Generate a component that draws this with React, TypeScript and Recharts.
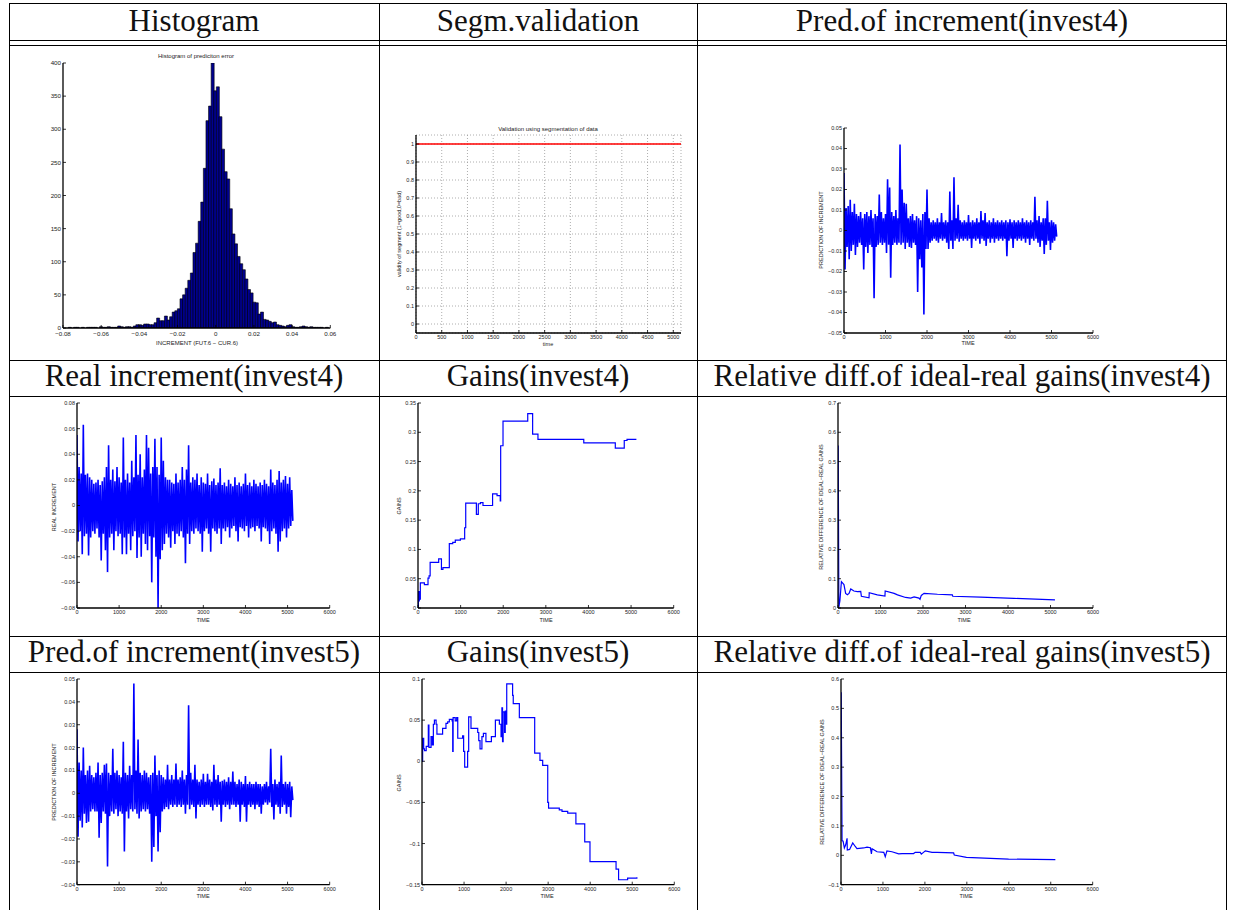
import React from "react";
import { Bar, BarChart, CartesianGrid, Line, LineChart, XAxis, YAxis } from "recharts";

// ---- histogram of prediction error (equal-width bins from HIST_START) ----
const HIST_START = -0.0772;
const HIST_BIN = 0.00136;
const HIST_COUNTS = [
  1, 0, 1, 1, 0, 1, 0, 1, 1, 1, 1, 0,
  2, 1, 1, 2, 1, 1, 1, 3, 2,
  1, 2, 2, 1, 3, 5, 5,
  4, 6, 6, 5, 5, 8,
  15, 11, 11, 18, 12, 17, 24, 26, 29,
  44, 50, 60, 72, 83, 114, 128, 161, 190, 241,
  313, 335, 400, 358, 364,
  319, 270, 236, 225, 180, 142, 127, 108, 97,
  88, 74, 58, 53, 39, 38, 21, 24, 13, 12,
  10, 8, 9, 5, 4, 3, 2, 4, 5,
  2, 1, 1, 2, 3, 2, 1, 2, 1, 1, 1, 1, 0, 1,
];

// ---- segment validation ----
const VALID_T = [0, 5150];
const VALID_V = [1, 1];

// ---- noisy series: max / min read per 50-sample bucket ----
const BUCKET = 50;

const PRED4_HI = [
  0.028, 0.011, 0.012, 0.015, 0.009, 0.013, 0.008, 0.007, 0.009, 0.006,
  0.008, 0.009, 0.007, 0.01, 0.006, 0.008, 0.007, 0.0175, 0.009, 0.006,
  0.008, 0.025, 0.021, 0.009, 0.007, 0.01, 0.006, 0.042, 0.02, 0.0135,
  0.013, 0.006, 0.007, 0.008, 0.005, 0.007, 0.006, 0.005, 0.008, 0.009,
  0.02, 0.006, 0.004, 0.005, 0.004, 0.006, 0.004, 0.0085, 0.004, 0.005,
  0.004, 0.019, 0.005, 0.026, 0.006, 0.0125, 0.005, 0.004, 0.005, 0.004,
  0.0075, 0.004, 0.005, 0.004, 0.006, 0.004, 0.0095, 0.005, 0.0085, 0.004,
  0.005, 0.004, 0.006, 0.004, 0.005, 0.004, 0.005, 0.004, 0.005, 0.004,
  0.0055, 0.004, 0.005, 0.004, 0.005, 0.004, 0.006, 0.004, 0.005, 0.004,
  0.005, 0.004, 0.0165, 0.005, 0.007, 0.004, 0.006, 0.006, 0.0145, 0.004,
  0.005, 0.004, 0.003,
];
const PRED4_LO = [
  -0.019, -0.008, -0.014, -0.01, -0.007, -0.012, -0.008, -0.006, -0.007, -0.019,
  -0.008, -0.011, -0.007, -0.008, -0.033, -0.008, -0.007, -0.006, -0.007, -0.006,
  -0.011, -0.007, -0.023, -0.007, -0.006, -0.007, -0.006, -0.007, -0.006, -0.009,
  -0.006, -0.008, -0.0085, -0.006, -0.007, -0.03, -0.014, -0.018, -0.041, -0.009,
  -0.009, -0.006, -0.005, -0.004, -0.005, -0.006, -0.004, -0.005, -0.004, -0.006,
  -0.009, -0.005, -0.009, -0.005, -0.004, -0.0055, -0.004, -0.005, -0.004, -0.005,
  -0.004, -0.0085, -0.004, -0.005, -0.004, -0.0065, -0.004, -0.005, -0.0075, -0.004,
  -0.006, -0.004, -0.006, -0.004, -0.005, -0.004, -0.005, -0.004, -0.0125, -0.005,
  -0.004, -0.0085, -0.004, -0.005, -0.004, -0.005, -0.004, -0.006, -0.004, -0.007,
  -0.004, -0.005, -0.004, -0.006, -0.008, -0.005, -0.0115, -0.007, -0.005, -0.0095,
  -0.006, -0.005, -0.003,
];

const REAL4_HI = [
  0.055, 0.03, 0.025, 0.063, 0.024, 0.025, 0.022, 0.02, 0.017, 0.018,
  0.02, 0.016, 0.019, 0.022, 0.03, 0.047, 0.02, 0.028, 0.019, 0.03,
  0.022, 0.018, 0.053, 0.02, 0.025, 0.018, 0.035, 0.022, 0.055, 0.024,
  0.04, 0.022, 0.028, 0.055, 0.045, 0.025, 0.03, 0.052, 0.03, 0.024,
  0.053, 0.035, 0.022, 0.02, 0.02, 0.018, 0.017, 0.025, 0.018, 0.02,
  0.03, 0.02, 0.028, 0.047, 0.018, 0.022, 0.02, 0.025, 0.016, 0.022,
  0.018, 0.017, 0.025, 0.016, 0.019, 0.021, 0.016, 0.018, 0.029, 0.016,
  0.018, 0.015, 0.02, 0.017, 0.015, 0.022, 0.016, 0.018, 0.015, 0.017,
  0.025, 0.016, 0.018, 0.015, 0.02, 0.017, 0.015, 0.018, 0.016, 0.02,
  0.017, 0.015, 0.028, 0.018, 0.016, 0.02, 0.027, 0.018, 0.02, 0.023,
  0.017, 0.022, 0.012,
];
const REAL4_LO = [
  -0.028, -0.02, -0.038, -0.024, -0.022, -0.039, -0.025, -0.02, -0.022, -0.018,
  -0.025, -0.043, -0.022, -0.035, -0.052, -0.025, -0.022, -0.035, -0.02, -0.024,
  -0.022, -0.038, -0.025, -0.038, -0.022, -0.035, -0.024, -0.02, -0.041, -0.025,
  -0.04, -0.022, -0.03, -0.035, -0.024, -0.06, -0.025, -0.04, -0.08, -0.042,
  -0.035, -0.03, -0.022, -0.025, -0.033, -0.02, -0.03, -0.022, -0.024, -0.02,
  -0.025, -0.045, -0.022, -0.03, -0.02, -0.022, -0.018, -0.02, -0.022, -0.036,
  -0.02, -0.018, -0.022, -0.036, -0.018, -0.02, -0.022, -0.018, -0.03, -0.018,
  -0.02, -0.017, -0.025, -0.018, -0.016, -0.02, -0.028, -0.017, -0.018, -0.02,
  -0.016, -0.025, -0.018, -0.017, -0.02, -0.016, -0.018, -0.028, -0.017, -0.018,
  -0.02, -0.03, -0.02, -0.018, -0.022, -0.036, -0.028, -0.02, -0.018, -0.025,
  -0.018, -0.016, -0.012,
];

const PRED5_HI = [
  0.028, 0.0135, 0.01, 0.02, 0.008, 0.01, 0.012, 0.008, 0.007, 0.009,
  0.0135, 0.008, 0.009, 0.0125, 0.013, 0.009, 0.008, 0.0195, 0.009, 0.01,
  0.008, 0.007, 0.0225, 0.009, 0.008, 0.012, 0.008, 0.048, 0.01, 0.0235,
  0.009, 0.008, 0.01, 0.009, 0.007, 0.008, 0.009, 0.0165, 0.008, 0.01,
  0.008, 0.007, 0.006, 0.0125, 0.006, 0.008, 0.006, 0.013, 0.006, 0.007,
  0.01, 0.006, 0.008, 0.0385, 0.009, 0.006, 0.0125, 0.006, 0.005, 0.006,
  0.0085, 0.005, 0.0085, 0.006, 0.005, 0.0125, 0.006, 0.008, 0.005, 0.0055,
  0.006, 0.005, 0.007, 0.005, 0.0095, 0.005, 0.004, 0.006, 0.005, 0.004,
  0.0075, 0.004, 0.005, 0.004, 0.004, 0.005, 0.004, 0.004, 0.003, 0.004,
  0.005, 0.003, 0.0195, 0.004, 0.006, 0.004, 0.005, 0.0165, 0.004, 0.005,
  0.004, 0.005, 0.003,
];
const PRED5_LO = [
  -0.019, -0.012, -0.015, -0.009, -0.013, -0.0125, -0.008, -0.007, -0.008, -0.008,
  -0.0195, -0.013, -0.008, -0.009, -0.032, -0.01, -0.008, -0.009, -0.007, -0.01,
  -0.008, -0.009, -0.0255, -0.008, -0.011, -0.007, -0.008, -0.007, -0.009, -0.011,
  -0.008, -0.007, -0.008, -0.007, -0.009, -0.03, -0.0235, -0.01, -0.0255, -0.017,
  -0.008, -0.007, -0.006, -0.007, -0.005, -0.006, -0.005, -0.006, -0.005, -0.006,
  -0.005, -0.009, -0.005, -0.007, -0.005, -0.006, -0.011, -0.005, -0.006, -0.005,
  -0.006, -0.005, -0.005, -0.006, -0.0075, -0.005, -0.006, -0.005, -0.0125, -0.005,
  -0.006, -0.005, -0.007, -0.005, -0.005, -0.006, -0.005, -0.0125, -0.005, -0.006,
  -0.0125, -0.005, -0.006, -0.005, -0.007, -0.005, -0.006, -0.009, -0.005, -0.004,
  -0.005, -0.004, -0.006, -0.0115, -0.005, -0.006, -0.009, -0.006, -0.005, -0.009,
  -0.006, -0.0105, -0.003,
];

// ---- gains (step series) ----
const GAIN4_T = [
  0, 10, 20, 30, 40, 55, 150, 235, 260, 285, 485, 550, 585, 735, 815, 875, 995,
  1095, 1120, 1370, 1415, 1465, 1525, 1750, 1855, 1930, 1940, 1995, 2575, 2690,
  2815, 3890, 4630, 4840, 4905, 5125,
];
const GAIN4_V = [
  0, 0.028, 0.012, 0.028, 0.015, 0.043, 0.04, 0.051, 0.055, 0.078, 0.084, 0.066,
  0.069, 0.11, 0.112, 0.116, 0.118, 0.137, 0.179, 0.16, 0.178, 0.18, 0.175, 0.195,
  0.192, 0.183, 0.277, 0.319, 0.332, 0.297, 0.288, 0.282, 0.273, 0.286, 0.288, 0.288,
];

const GAIN5_T = [
  0, 15, 40, 60, 100, 150, 165, 215, 245, 270, 295, 335, 355, 490, 570, 610, 650,
  715, 730, 740, 790, 825, 850, 965, 990, 1015, 1085, 1110, 1165, 1325, 1350, 1380,
  1425, 1460, 1520, 1650, 1745, 1840, 1880, 1900, 1915, 1930, 1965, 1980, 2005,
  2015, 2155, 2170, 2315, 2680, 2805, 2870, 2990, 3010, 3265, 3330, 3465, 3660,
  3870, 3995, 4615, 4675, 4890, 5110,
];
const GAIN5_V = [
  0, 0.028, 0.015, 0.013, 0.018, 0.044, 0.017, 0.03, 0.02, 0.045, 0.05, 0.045,
  0.033, 0.04, 0.046, 0.048, 0.051, 0.049, 0.012, 0.053, 0.049, 0.053, 0.028,
  0.031, 0.012, -0.007, 0.012, 0.054, 0.04, 0.035, 0.025, 0.015, 0.03, 0.034,
  0.024, 0.03, 0.05, 0.045, 0.03, 0.065, 0.024, 0.06, 0.035, 0.061, 0.045, 0.094,
  0.08, 0.07, 0.053, 0.01, 0.001, -0.005, -0.05, -0.057, -0.059, -0.061, -0.063,
  -0.076, -0.098, -0.122, -0.131, -0.144, -0.142, -0.141,
];

// ---- relative difference of ideal-real gains ----
const DIFF4_T = [
  5, 20, 45, 80, 140, 180, 220, 260, 300, 375, 455, 535, 550, 730, 735, 925,
  1105, 1110, 1320, 1400, 1590, 1710, 1790, 1905, 1930, 1960, 2025, 2340, 2690,
  2700, 3360, 4140, 5105,
];
const DIFF4_V = [
  0.555, 0.003, 0.025, 0.09, 0.08, 0.05, 0.045, 0.05, 0.065, 0.058, 0.056,
  0.057, 0.04, 0.035, 0.052, 0.045, 0.041, 0.058, 0.05, 0.045, 0.036, 0.034, 0.038,
  0.034, 0.03, 0.043, 0.05, 0.047, 0.045, 0.04, 0.037, 0.033, 0.028,
];

const DIFF5_T = [
  5, 25, 50, 80, 110, 145, 150, 205, 245, 280, 340, 380, 540, 620, 700, 725,
  740, 860, 1020, 1055, 1095, 1215, 1375, 1455, 1730, 1770, 1890, 1915, 2010, 2170,
  2290, 2685, 2700, 2990, 3995, 5110,
];
const DIFF5_V = [
  0.555, 0.05, 0.048, 0.025, 0.035, 0.058, 0.018, 0.02, 0.032, 0.042, 0.03,
  0.023, 0.025, 0.028, 0.026, 0.005, 0.022, 0.012, 0.01, -0.005, 0.015, 0.012,
  0.005, 0.006, 0.006, 0.01, 0.01, 0.004, 0.015, 0.01, 0.01, 0.008, 0.001, -0.007,
  -0.013, -0.015,
];

// ---- tick labels ----
const HIST_X_TICKS = [-0.08, -0.06, -0.04, -0.02, 0, 0.02, 0.04, 0.06];
const HIST_Y_TICKS = [0, 50, 100, 150, 200, 250, 300, 350, 400];
const VALID_X_TICKS = [0, 500, 1000, 1500, 2000, 2500, 3000, 3500, 4000, 4500, 5000];
const VALID_Y_TICKS = [0, 0.1, 0.2, 0.3, 0.4, 0.5, 0.6, 0.7, 0.8, 0.9, 1];
const TIME_TICKS = [0, 1000, 2000, 3000, 4000, 5000, 6000];
const PRED4_Y_TICKS = [-0.05, -0.04, -0.03, -0.02, -0.01, 0, 0.01, 0.02, 0.03, 0.04, 0.05];
const REAL4_Y_TICKS = [-0.08, -0.06, -0.04, -0.02, 0, 0.02, 0.04, 0.06, 0.08];
const GAIN4_Y_TICKS = [0, 0.05, 0.1, 0.15, 0.2, 0.25, 0.3, 0.35];
const DIFF4_Y_TICKS = [0, 0.1, 0.2, 0.3, 0.4, 0.5, 0.6, 0.7];
const PRED5_Y_TICKS = [-0.04, -0.03, -0.02, -0.01, 0, 0.01, 0.02, 0.03, 0.04, 0.05];
const GAIN5_Y_TICKS = [-0.15, -0.1, -0.05, 0, 0.05, 0.1];
const DIFF5_Y_TICKS = [-0.1, 0, 0.1, 0.2, 0.3, 0.4, 0.5, 0.6];

// ---- build chart rows ----
const histData = HIST_COUNTS.map((c, i) => ({ t: HIST_START + (i + 0.5) * HIST_BIN, v: c }));
const zipRows = (ts: number[], vs: number[]) => ts.map((t, i) => ({ t, v: vs[i] }));
const envelopeRows = (hi: number[], lo: number[]) => {
  const rows: { t: number; v: number }[] = [];
  hi.forEach((h, k) => {
    rows.push({ t: k * BUCKET, v: h });
    rows.push({ t: k * BUCKET + BUCKET / 2, v: lo[k] });
  });
  return rows;
};

// ---- layout ----
type Box = { x0: number; y0: number; x1: number; y1: number };
const PAD = { l: 40, t: 10, r: 10, b: 20 };
const BOX: Record<string, Box> = {
  hist: { x0: 62.7, y0: 63.3, x1: 330, y1: 328.3 },
  valid: { x0: 416, y0: 135, x1: 681, y1: 333 },
  pred4: { x0: 844, y0: 128, x1: 1093, y1: 333 },
  real4: { x0: 77.3, y0: 403.3, x1: 330, y1: 608.3 },
  gain4: { x0: 418.3, y0: 403.3, x1: 674, y1: 608.3 },
  diff4: { x0: 837.7, y0: 403.3, x1: 1092.7, y1: 608.3 },
  pred5: { x0: 77.3, y0: 679.3, x1: 330, y1: 885 },
  gain5: { x0: 421.7, y0: 679.3, x1: 674, y1: 885 },
  diff5: { x0: 841, y0: 679.3, x1: 1092.7, y1: 885 },
};

const SANS = "'Liberation Sans', Arial, Helvetica, sans-serif";
const SERIF = "'Liberation Serif', 'Times New Roman', serif";
const INK = "#222";
const BLUE = "#0000ff";
const AXIS_LINE = { stroke: "#000", strokeWidth: 1.3 };
const TICK_LEN = 3;

const fmt = (v: number) => String(parseFloat(Number(v).toFixed(4))).replace("-", "\u2212");

function tickFor(side: "b" | "t" | "l" | "r", fs: number, gap: number) {
  return (p: any) => {
    const { x, y, payload } = p;
    const v = payload ? payload.value : 0;
    if (side === "b")
      return (
        <g>
          <line x1={x} y1={y} x2={x} y2={y - TICK_LEN} stroke="#000" strokeWidth={0.8} />
          <text x={x} y={y + gap + fs * 0.36} fontSize={fs} textAnchor="middle" fill={INK} fontFamily={SANS}>
            {fmt(v)}
          </text>
        </g>
      );
    if (side === "t") return <line x1={x} y1={y} x2={x} y2={y + TICK_LEN} stroke="#000" strokeWidth={0.8} />;
    if (side === "l")
      return (
        <g>
          <line x1={x} y1={y} x2={x + TICK_LEN} y2={y} stroke="#000" strokeWidth={0.8} />
          <text x={x - gap} y={y + fs * 0.36} fontSize={fs} textAnchor="end" fill={INK} fontFamily={SANS}>
            {fmt(v)}
          </text>
        </g>
      );
    return <line x1={x} y1={y} x2={x - TICK_LEN} y2={y} stroke="#000" strokeWidth={0.8} />;
  };
}

function frameAxes(o: {
  xDomain: [number, number];
  xTicks: number[];
  yDomain: [number, number];
  yTicks: number[];
  fs: number;
  xGap: number;
}) {
  const common = {
    type: "number" as const,
    allowDataOverflow: true,
    interval: 0 as const,
    tickSize: 0,
    tickMargin: 0,
    tickLine: false,
    axisLine: AXIS_LINE,
  };
  return [
    <XAxis key="xb" xAxisId="b" dataKey="t" domain={o.xDomain} ticks={o.xTicks} height={PAD.b}
      tick={tickFor("b", o.fs, o.xGap)} {...common} />,
    <XAxis key="xt" xAxisId="t" dataKey="t" orientation="top" domain={o.xDomain} ticks={o.xTicks} height={0}
      tick={tickFor("t", o.fs, 0)} {...common} />,
    <YAxis key="yl" yAxisId="l" domain={o.yDomain} ticks={o.yTicks} width={PAD.l}
      tick={tickFor("l", o.fs, 2)} {...common} />,
    <YAxis key="yr" yAxisId="r" orientation="right" domain={o.yDomain} ticks={o.yTicks} width={0}
      tick={tickFor("r", o.fs, 0)} {...common} />,
  ];
}

const place = (b: Box): React.CSSProperties => ({ position: "absolute", left: b.x0 - PAD.l, top: b.y0 - PAD.t });
const dims = (b: Box) => ({
  width: b.x1 - b.x0 + PAD.l + PAD.r,
  height: b.y1 - b.y0 + PAD.t + PAD.b,
  margin: { top: PAD.t, right: PAD.r, bottom: 0, left: 0 },
});

function Txt({ x, y, fs = 5.5, rot = false, children }: { x: number; y: number; fs?: number; rot?: boolean; children: React.ReactNode }) {
  return (
    <div
      style={{
        position: "absolute",
        left: x,
        top: y,
        transform: `translate(-50%, -50%)${rot ? " rotate(-90deg)" : ""}`,
        fontFamily: SANS,
        fontSize: fs,
        lineHeight: 1,
        color: INK,
        whiteSpace: "nowrap",
      }}
    >
      {children}
    </div>
  );
}

function Head({ cx, top, children }: { cx: number; top: number; children: React.ReactNode }) {
  return (
    <div
      style={{
        position: "absolute",
        left: cx,
        top,
        transform: "translateX(-50%)",
        fontFamily: SERIF,
        fontSize: 31,
        lineHeight: "31px",
        color: "#111",
        whiteSpace: "nowrap",
      }}
    >
      {children}
    </div>
  );
}

const H_LINES = [3, 40, 45, 360, 396, 636, 672];
const V_LINES = [9, 379, 697, 1226];

function NoisyPanel({ box, hi, lo, yDomain, yTicks }: { box: Box; hi: number[]; lo: number[]; yDomain: [number, number]; yTicks: number[] }) {
  return (
    <div style={place(box)}>
      <LineChart data={envelopeRows(hi, lo)} {...dims(box)}>
        {frameAxes({ xDomain: [0, 6000], xTicks: TIME_TICKS, yDomain, yTicks, fs: 5.5, xGap: 4.5 })}
        <Line xAxisId="b" yAxisId="l" dataKey="v" stroke={BLUE} strokeWidth={1.6} dot={false} isAnimationActive={false} />
      </LineChart>
    </div>
  );
}

function StepPanel({ box, ts, vs, yDomain, yTicks, kind }: { box: Box; ts: number[]; vs: number[]; yDomain: [number, number]; yTicks: number[]; kind: "stepAfter" | "linear" }) {
  return (
    <div style={place(box)}>
      <LineChart data={zipRows(ts, vs)} {...dims(box)}>
        {frameAxes({ xDomain: [0, 6000], xTicks: TIME_TICKS, yDomain, yTicks, fs: 5.5, xGap: 4.5 })}
        <Line xAxisId="b" yAxisId="l" type={kind} dataKey="v" stroke={BLUE} strokeWidth={1.2} dot={false} isAnimationActive={false} />
      </LineChart>
    </div>
  );
}

export default function App() {
  return (
    <div style={{ position: "absolute", left: 0, top: 0, width: 1233, height: 910, background: "#fff", overflow: "hidden" }}>
      {H_LINES.map((y) => (
        <div key={"h" + y} style={{ position: "absolute", left: V_LINES[0], top: y, width: V_LINES[3] - V_LINES[0] + 1, height: 1, background: "#000" }} />
      ))}
      {V_LINES.map((x) => (
        <div key={"v" + x} style={{ position: "absolute", left: x, top: 3, width: 1, height: 910, background: "#000" }} />
      ))}

      <Head cx={194} top={4.5}>Histogram</Head>
      <Head cx={538} top={4.5}>Segm.validation</Head>
      <Head cx={962} top={4.5}>Pred.of increment(invest4)</Head>
      <Head cx={194} top={360}>Real increment(invest4)</Head>
      <Head cx={538} top={360}>Gains(invest4)</Head>
      <Head cx={962} top={360}>Relative diff.of ideal-real gains(invest4)</Head>
      <Head cx={194} top={636.3}>Pred.of increment(invest5)</Head>
      <Head cx={538} top={636.3}>Gains(invest5)</Head>
      <Head cx={962} top={636.3}>Relative diff.of ideal-real gains(invest5)</Head>

      {/* histogram */}
      <div style={place(BOX.hist)}>
        <BarChart data={histData} {...dims(BOX.hist)} barCategoryGap={0} barGap={0}>
          {frameAxes({ xDomain: [-0.08, 0.06], xTicks: HIST_X_TICKS, yDomain: [0, 400], yTicks: HIST_Y_TICKS, fs: 6.2, xGap: 6 })}
          <Bar xAxisId="b" yAxisId="l" dataKey="v" fill="#000090" stroke="#000" strokeWidth={0.6} isAnimationActive={false} />
        </BarChart>
      </div>
      <Txt x={196} y={56} fs={6}>Histogram of prediciton error</Txt>
      <Txt x={197} y={343} fs={6}>INCREMENT (FUT.6 − CUR.6)</Txt>

      {/* segment validation */}
      <div style={place(BOX.valid)}>
        <LineChart data={zipRows(VALID_T, VALID_V)} {...dims(BOX.valid)}>
          <CartesianGrid xAxisId="b" yAxisId="l" stroke="#999" strokeDasharray="1 2" strokeWidth={0.8} />
          {frameAxes({ xDomain: [0, 5150], xTicks: VALID_X_TICKS, yDomain: [-0.05, 1.05], yTicks: VALID_Y_TICKS, fs: 5.5, xGap: 4.5 })}
          <Line xAxisId="b" yAxisId="l" dataKey="v" stroke="#ff0000" strokeWidth={1.6} dot={false} isAnimationActive={false} />
        </LineChart>
      </div>
      <Txt x={548} y={129} fs={6}>Validation using segmentation of data</Txt>
      <Txt x={400} y={234} fs={5.5} rot>validity of segment (1=good,0=bad)</Txt>
      <Txt x={548} y={345} fs={5.5}>time</Txt>

      {/* prediction of increment, invest4 */}
      <NoisyPanel box={BOX.pred4} hi={PRED4_HI} lo={PRED4_LO} yDomain={[-0.05, 0.05]} yTicks={PRED4_Y_TICKS} />
      <Txt x={822} y={230} rot>PREDICTION OF INCREMENT</Txt>
      <Txt x={968} y={344}>TIME</Txt>

      {/* real increment, invest4 */}
      <NoisyPanel box={BOX.real4} hi={REAL4_HI} lo={REAL4_LO} yDomain={[-0.08, 0.08]} yTicks={REAL4_Y_TICKS} />
      <Txt x={55} y={507} rot>REAL INCREMENT</Txt>
      <Txt x={203} y={621}>TIME</Txt>

      {/* gains, invest4 */}
      <StepPanel box={BOX.gain4} ts={GAIN4_T} vs={GAIN4_V} yDomain={[0, 0.35]} yTicks={GAIN4_Y_TICKS} kind="stepAfter" />
      <Txt x={400} y={506} rot>GAINS</Txt>
      <Txt x={546} y={621}>TIME</Txt>

      {/* relative difference, invest4 */}
      <StepPanel box={BOX.diff4} ts={DIFF4_T} vs={DIFF4_V} yDomain={[0, 0.7]} yTicks={DIFF4_Y_TICKS} kind="linear" />
      <Txt x={822} y={507} rot>RELATIVE DIFFERENCE OF IDEAL−REAL GAINS</Txt>
      <Txt x={964} y={621}>TIME</Txt>

      {/* prediction of increment, invest5 */}
      <NoisyPanel box={BOX.pred5} hi={PRED5_HI} lo={PRED5_LO} yDomain={[-0.04, 0.05]} yTicks={PRED5_Y_TICKS} />
      <Txt x={55} y={782} rot>PREDICTION OF INCREMENT</Txt>
      <Txt x={203} y={897}>TIME</Txt>

      {/* gains, invest5 */}
      <StepPanel box={BOX.gain5} ts={GAIN5_T} vs={GAIN5_V} yDomain={[-0.15, 0.1]} yTicks={GAIN5_Y_TICKS} kind="stepAfter" />
      <Txt x={400} y={783} rot>GAINS</Txt>
      <Txt x={547} y={897}>TIME</Txt>

      {/* relative difference, invest5 */}
      <StepPanel box={BOX.diff5} ts={DIFF5_T} vs={DIFF5_V} yDomain={[-0.1, 0.6]} yTicks={DIFF5_Y_TICKS} kind="linear" />
      <Txt x={823} y={782} rot>RELATIVE DIFFERENCE OF IDEAL−REAL GAINS</Txt>
      <Txt x={966} y={897}>TIME</Txt>
    </div>
  );
}
